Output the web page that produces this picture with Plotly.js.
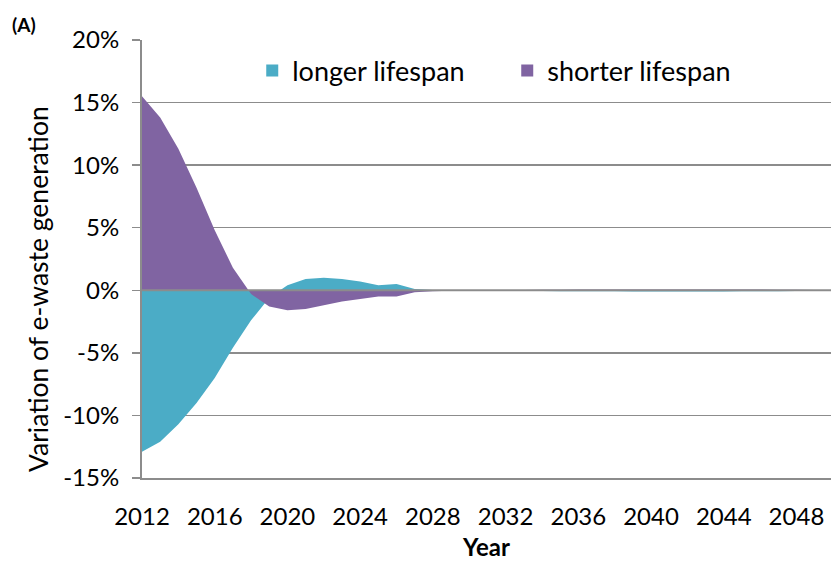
<!DOCTYPE html>
<html>
<head>
<meta charset="utf-8">
<script src="https://cdn.plot.ly/plotly-3.0.1.min.js"></script>
<style>html,body{margin:0;padding:0;background:#fff;}#chart{width:831px;height:563px;}</style>
</head>
<body>
<div id="chart"></div>
<script>
const years = [];
for (let y = 2012; y <= 2050; y++) years.push(y);

const seriesNames = ["longer lifespan", "shorter lifespan"];

// Variation of e-waste generation (%) - longer lifespan scenario
const longerLifespan = [
  -12.9, -12.1, -10.7, -9.0, -7.0, -4.6, -2.4, -0.6, 0.4, 0.9,
  1.0, 0.9, 0.7, 0.4, 0.5, 0.1, 0.02, 0.0, -0.01, -0.02,
  -0.03, -0.05, -0.06, -0.07, -0.08, -0.08, -0.08, -0.09, -0.09, -0.09,
  -0.09, -0.09, -0.09, -0.08, -0.08, -0.07, -0.06, -0.05, -0.04
];

// Variation of e-waste generation (%) - shorter lifespan scenario
const shorterLifespan = [
  15.5, 13.8, 11.3, 8.2, 4.8, 1.8, -0.3, -1.3, -1.6, -1.5,
  -1.2, -0.9, -0.7, -0.5, -0.5, -0.15, -0.08, -0.03, 0.0, 0.0,
  0.02, 0.03, 0.04, 0.05, 0.06, 0.06, 0.07, 0.07, 0.07, 0.07,
  0.07, 0.07, 0.07, 0.06, 0.06, 0.05, 0.04, 0.03, 0.02
];

const yTickVals = [20, 15, 10, 5, 0, -5, -10, -15];
const yTickText = ["20%", "15%", "10%", "5%", "0%", "-5%", "-10%", "-15%"];
const xTickVals = [2012, 2016, 2020, 2024, 2028, 2032, 2036, 2040, 2044, 2048];

const teal = "#4BACC6";
const purple = "#8064A2";
const FONT = "Lato, 'Open Sans', sans-serif";

const traces = [
  {
    x: years, y: longerLifespan, name: seriesNames[0], type: "scatter", mode: "none",
    fill: "tozeroy", fillcolor: teal, hoverinfo: "skip", showlegend: false, legendgroup: "a"
  },
  {
    x: years, y: shorterLifespan, name: seriesNames[1], type: "scatter", mode: "none",
    fill: "tozeroy", fillcolor: purple, hoverinfo: "skip", showlegend: false, legendgroup: "b"
  },
  // legend keys (square swatches, no plotted data)
  {
    x: [null], y: [null], name: seriesNames[0], type: "scatter", mode: "markers",
    marker: {symbol: "square", size: 16, color: teal}, showlegend: true, legendgroup: "a"
  },
  {
    x: [null], y: [null], name: seriesNames[1], type: "scatter", mode: "markers",
    marker: {symbol: "square", size: 16, color: purple}, showlegend: true, legendgroup: "b"
  }
];

const layout = {
  width: 831, height: 563,
  margin: {l: 142, r: 0, t: 40, b: 85, pad: 0},
  paper_bgcolor: "#fff", plot_bgcolor: "#fff",
  font: {family: FONT, size: 24, color: "#000"},
  showlegend: true,
  legend: {
    orientation: "h", x: 0.16, y: 0.985, xanchor: "left", yanchor: "top",
    font: {family: FONT, size: 27, color: "#000"},
    bgcolor: "rgba(0,0,0,0)", entrywidth: 210, entrywidthmode: "pixels",
    itemwidth: 30, traceorder: "normal", itemsizing: "constant"
  },
  xaxis: {
    type: "linear", range: [2012, 2049.9],
    tickvals: xTickVals, ticktext: xTickVals.map(String),
    showgrid: false, zeroline: false,
    showline: true, linecolor: "#8c8c8c", linewidth: 2,
    ticks: "", ticklabelstandoff: 16,
    tickfont: {family: FONT, size: 24, color: "#000"},
    title: {text: "<b>Year</b>", font: {family: FONT, size: 24, color: "#000"}, standoff: 10}
  },
  yaxis: {
    range: [-15, 20],
    tickvals: yTickVals, ticktext: yTickText,
    showgrid: true, gridcolor: "#8c8c8c", gridwidth: 1.5,
    zeroline: false,
    showline: true, linecolor: "#8c8c8c", linewidth: 2,
    ticks: "outside", ticklen: 8, tickcolor: "#8c8c8c", tickwidth: 1.5,
    ticklabelstandoff: 8,
    tickfont: {family: FONT, size: 24, color: "#000"},
    title: {text: ""}
  },
  shapes: [
    {type: "line", xref: "paper", x0: 0, x1: 1, yref: "y", y0: 0, y1: 0,
     line: {color: "#8c8c8c", width: 2}, layer: "above"}
  ],
  annotations: [
    {text: "<b>(A)</b>", xref: "paper", yref: "paper", x: -0.192, y: 1.0, xanchor: "left", yanchor: "bottom",
     yshift: 2, showarrow: false, font: {family: FONT, size: 19, color: "#000"}},
    {text: "Variation of e-waste generation", xref: "paper", yref: "paper", x: -0.151, y: 0.4315,
     xanchor: "center", yanchor: "middle", textangle: -90, showarrow: false,
     font: {family: FONT, size: 26.5, color: "#000"}}
  ]
};

Plotly.newPlot("chart", traces, layout, {staticPlot: true, displayModeBar: false});
</script>
</body>
</html>
